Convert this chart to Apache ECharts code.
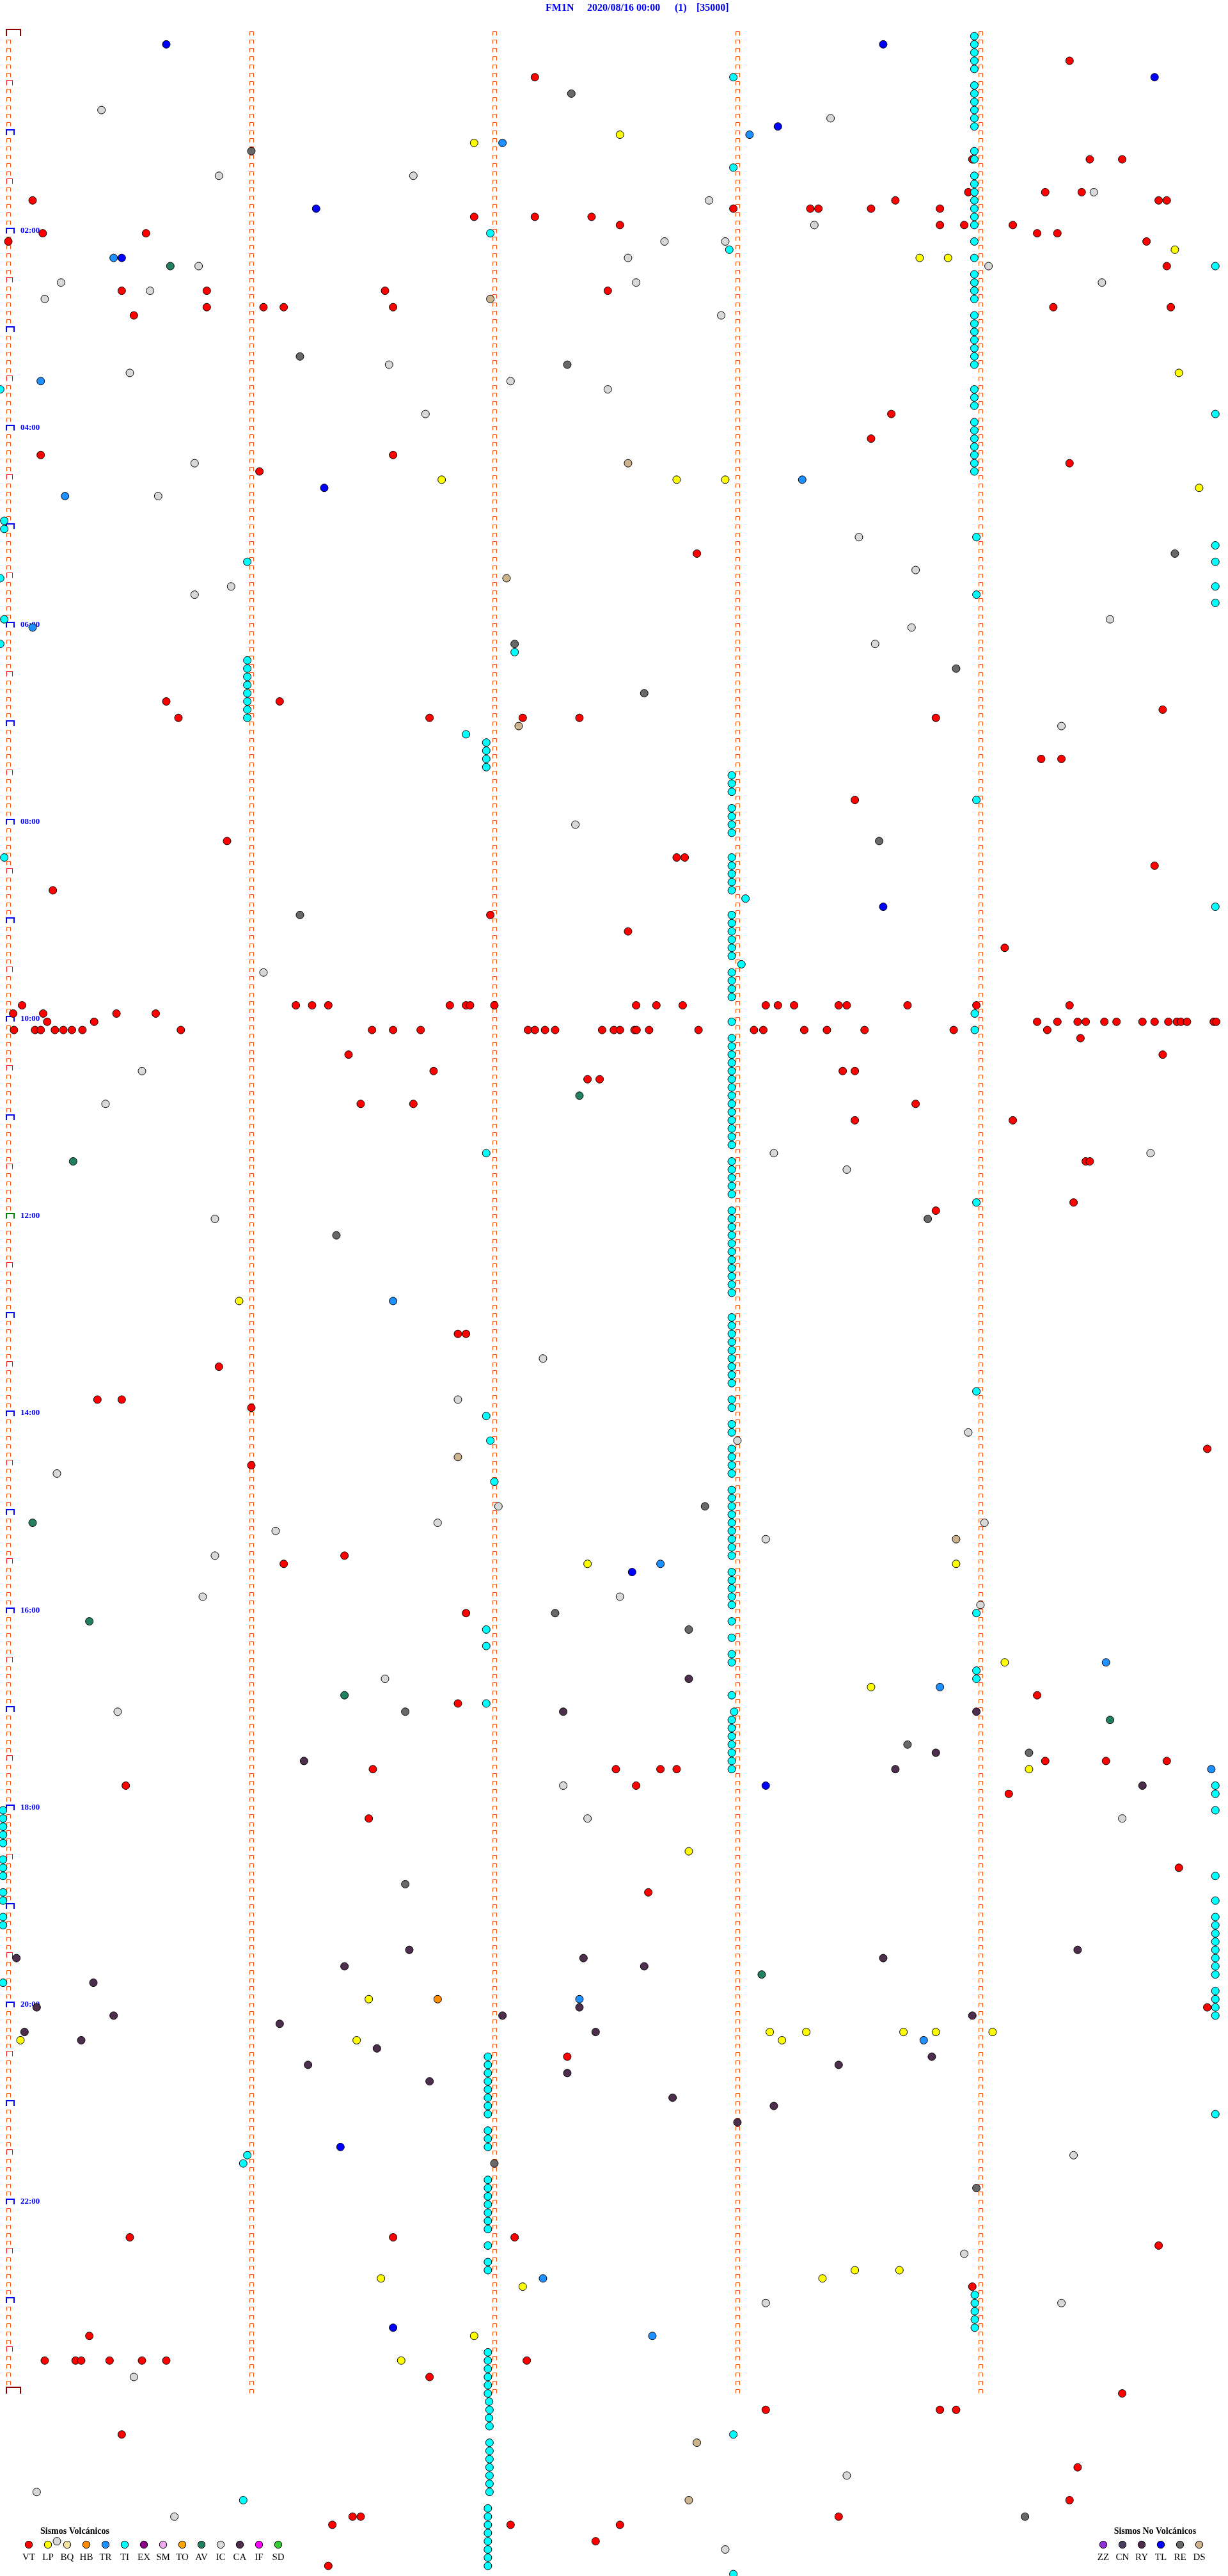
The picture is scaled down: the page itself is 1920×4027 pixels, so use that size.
<!DOCTYPE html>
<html><head><meta charset="utf-8">
<script src="https://cdn.jsdelivr.net/npm/echarts@6/dist/echarts.min.js"></script>
<style>html,body{margin:0;padding:0;background:#fff}#c{width:1920px;height:4027px}</style>
</head><body><div id="c"></div>
<script>
// Each event: [seconds within the 5-minute row, row index (5-minute rows from 00:00)]
const VT = [[262,3],[130,5],[267,15],[275,15],[238,15],[256,19],[265,19],[237,19],[6,20],[179,21],[198,21],[200,21],[213,21],[219,20],[230,21],[284,20],[286,20],[115,22],[130,22],[144,22],[151,23],[230,23],[236,23],[248,23],[254,24],[259,24],[0,25],[8.5,24],[34,24],[281,25],[286,28],
[28,31],[49,31],[93,31],[148,31],[49,33],[63,33],[68,33],[95,33],[31,34],[258,33],[287,33],
[218,46],[213,49],[8,51],[95,51],[262,52],[62,53],[170,63],
[39,81],[67,81],[285,82],[42,83],[104,83],[127,83],[141,83],[229,83],[255,88],[260,88],[209,93],[54,98],[165,100],[167,100],[283,101],[11,104],[119,107],[153,109],[246,111],
[3.4,118],[71,118],[75,118],[79,118],[109,118],[113,118],[114,118],[120,118],[155,118],[160,118],[166.5,118],[187,118],[190,118],[194,118],[205,118],[207,118],[222,118],[239,118],[262,118],
[1.2,119],[8.6,119],[26.7,119],[36.4,119],
[9.6,120],[21.2,120],[254,120],[259,120],[264,120],[266,120],[270.6,120],[273.6,120],[280,120],[283,120],[286.4,120],[288.5,120],[289.5,120],[291,120],[297.6,120],[298.2,120],
[1.4,121],[6.6,121],[8,121],[11.5,121],[13.6,121],[15.7,121],[18.3,121],[42.6,121],[89.8,121],[95,121],[101.8,121],[128.3,121],[130,121],[132.5,121],[135,121],[146.6,121],[149.5,121],[151,121],[154.6,121],[155.1,121],[158.2,121],[170.4,121],[184.1,121],[186.4,121],[196.5,121],[202.1,121],[211.4,121],[233.4,121],[256.5,121],
[264.7,122],
[285,124],[84,124],[105,126],[206,126],[209,126],[143,127],[146,127],[87,130],[100,130],[224,130],[209,132],[248,132],[266,137],[267,137],[263,142],[229,143],[111,158],[113,158],[52,162],[22,166],[28,166],[60,167],[296,172],[60,174],[83,185],[68,186],[113,192],[254,202],[111,203],[90,211],[150,211],[161,211],[165,211],[256,210],[271,210],[286,210],[155,213],[29,213],[247,214],[89,217],[289,223],[158,226],[296,240],[138,246],[30,268],[95,268],[125,268],[284,269],[20,280],[9,283],[16.6,283],[18,283],[25,283],[33,283],[39,283],[104,285],[128,283],[275,287],[187,289],[230,289],[234,289],[28,292],[264,296],[262,300],[85,302],[87,302],[205,302],[151,303],[124,303],[80,303],[145,305],[79,308]];
const LP = [[151,12],[115,13],[225,27],[232,27],[288,26],[289,41],[107,54],[165,54],[177,54],[294,55],[57,154],[143,186],[234,186],[246,198],[213,201],[252,211],[168,221],[89,239],[3,244],[86,244],[188,243],[191,244],[197,243],[221,243],[229,243],[243,243],[115,280],[92,273],[127,274],[201,273],[209,272],[220,272],[97,283]];
const HB = [[106,239]];
const TR = [[183,12],[122,13],[26,27],[8,42],[196,54],[14,56],[6,72],[95,154],[161,186],[271,198],[230,201],[297,211],[141,239],[226,244],[132,273],[159,280]];
const TI = [
[238.5,0],[238.5,1],[238.5,2],[238.5,3],[238.5,4],[238.5,6],[238.5,7],[238.5,8],[238.5,9],[238.5,10],[238.5,11],[238.5,14],[238.5,15],[238.5,17],[238.5,18],[238.5,19],[238.5,20],[238.5,21],[238.5,22],[238.5,23],[238.5,25],[238.5,27],[238.5,29],[238.5,30],[238.5,31],[238.5,32],[238.5,34],[238.5,35],[238.5,36],[238.5,37],[238.5,38],[238.5,39],[238.5,40],[238.5,43],[238.5,44],[238.5,45],[238.5,47],[238.5,48],[238.5,49],[238.5,50],[238.5,51],[238.5,52],[238.5,53],
[178.6,90],[178.6,91],[178.6,92],[178.6,94],[178.6,95],[178.6,96],[178.6,97],[178.6,100],[178.6,101],[178.6,102],[178.6,103],[178.6,104],[178.6,107],[178.6,108],[178.6,109],[178.6,110],[178.6,111],[178.6,112],[178.6,114],[178.6,115],[178.6,116],[178.6,117],[178.6,120],
[178.6,122],[178.6,123],[178.6,124],[178.6,125],[178.6,126],[178.6,127],[178.6,128],[178.6,129],[178.6,130],[178.6,131],[178.6,132],[178.6,133],[178.6,134],[178.6,135],
[178.6,137],[178.6,138],[178.6,139],[178.6,140],[178.6,141],
[178.6,143],[178.6,144],[178.6,145],[178.6,146],[178.6,147],[178.6,148],[178.6,149],[178.6,150],[178.6,151],[178.6,152],[178.6,153],
[178.6,156],[178.6,157],[178.6,158],[178.6,159],[178.6,160],[178.6,161],[178.6,162],[178.6,163],[178.6,164],
[178.6,166],[178.6,167],[178.6,169],[178.6,170],[178.6,172],[178.6,173],[178.6,174],[178.6,175],
[178.6,177],[178.6,178],[178.6,179],[178.6,180],[178.6,181],[178.6,182],[178.6,183],[178.6,184],[178.6,185],
[178.6,187],[178.6,188],[178.6,189],[178.6,190],[178.6,191],[178.6,193],[178.6,195],[178.6,197],[178.6,198],[178.6,202],[179.2,204],
[178.6,205],[178.6,206],[178.6,207],[178.6,208],[178.6,209],[178.6,210],[178.6,211],
[118.4,246],[118.4,247],[118.4,248],[118.4,249],[118.4,250],[118.4,251],[118.4,252],[118.4,253],[118.4,255],[118.4,256],[118.4,257],
[118.4,261],[118.4,262],[118.4,263],[118.4,264],[118.4,265],[118.4,266],[118.4,267],[118.4,269],[118.4,271],[118.4,272],
[118.4,282],[118.4,283],[118.4,284],[118.4,285],[118.4,286],[118.4,287],[118.7,288],[118.8,289],[118.7,290],[118.8,291],
[118.8,293],[118.8,294],[118.8,295],[118.8,296],[118.8,297],[118.8,298],[118.8,299],
[118.4,301],[118.4,302],[118.4,303],[118.4,304],[118.4,305],[118.4,306],[118.4,307],[118.4,308],
[179,5],[179,16],[119,24],[178,26],[298,28],[-2,43],[298,46],[-1,59],[-1,60],[239,61],[298,62],[59,64],[298,64],[-2,66],[239,68],[298,67],[298,69],[-1,71],[-2,74],[125,75],
[59,76],[59,77],[59,78],[59,79],[59,80],[59,81],[59,82],[59,83],[113,85],[118,86],[118,87],[118,88],[118,89],[239,93],[-1,100],[182,105],[298,106],[181,113],
[238.6,119],[238.6,121],[118,136],[239,142],[239,165],[118,168],[119,171],[120,176],[239,192],[118,194],[118,196],[239,199],[239,200],[118,203],[298,213],[298,214],[298,216],
[-1.3,216],[-1.3,217],[-1.3,218],[-1.3,219],[-1.3,220],[-1.3,222],[-1.3,223],[-1.3,224],[-1.3,226],[-1.3,227],[-1.3,229],[-1.3,230],[-1.3,237],
[298,224],[298,227],[298,229],[298,230],[298,231],[298,232],[298,233],[298,234],[298,235],[298,236],[298,238],[298,239],[298,240],[298,241],[298,253],
[59,258],[58,259],[238.6,275],[238.6,276],[238.6,277],[238.6,278],[238.6,279],[179,292],[58,300],[179,309]];
const VT_TOP = [[238,274]];
const IC = [[23,9],[203,10],[52,17],[100,17],[173,20],[268,19],[199,23],[162,25],[177,25],[47,28],[153,27],[242,28],[13,30],[155,30],[270,30],[9,32],[35,31],[176,34],[94,40],[30,41],[124,42],[148,43],[103,46],[46,52],[37,56],[210,61],[224,65],[55,67],[46,68],[272,71],[223,72],[214,74],[260,84],[140,96],[63,114],[33,126],[24,130],[282,136],[189,136],[207,138],[51,144],[132,161],[111,166],[237,170],[180,171],[12,175],[121,179],[187,183],[106,181],[241,181],[66,182],[51,185],[151,190],[48,190],[240,191],[93,200],[27,204],[137,213],[143,217],[275,217],[263,258],[236,270],[187,276],[260,276],[31,285],[207,297],[7,299],[41,302],[177,306],[12,305]];
const RE = [[139,7],[60,14],[72,39],[138,40],[288,63],[125,74],[234,77],[157,80],[215,98],[72,107],[227,144],[81,146],[172,179],[135,192],[168,194],[98,204],[222,208],[252,209],[98,225],[239,262],[251,302],[120,259]];
const DS = [[119,32],[153,52],[123,66],[126,84],[111,173],[234,183],[170,293],[168,300]];
const AV = [[40,28],[141,129],[16,137],[6,181],[20,193],[83,202],[272,205],[186,236]];
const CA = [[168,200],[137,204],[239,204],[229,209],[73,210],[219,211],[280,213],[2,234],[21,237],[99,233],[142,234],[83,235],[157,235],[216,234],[264,233],[7,240],[26,241],[4,243],[18,244],[141,240],[122,241],[145,243],[91,245],[67,242],[74,247],[238,241],[228,246],[205,247],[138,248],[104,249],[164,251],[189,252],[180,254]];
const TL = [[39,1],[216,1],[283,5],[190,11],[28,27],[76,21],[78,55],[216,106],[154,187],[187,213],[82,257],[95,279]];

const hourLabels = ['02:00','04:00','06:00','08:00','10:00','12:00','14:00','16:00','18:00','20:00','22:00'];
const hourLabelRows = [24,48,72,96,120,144,168,192,216,240,264];

const volcanicTypes = ['VT','LP','BQ','HB','TR','TI','EX','SM','TO','AV','IC','CA','IF','SD'];
const volcanicColors = ['#ff0000','#ffff00','#f3e3a3','#ff8c00','#1e90ff','#00ffff','#8b008b','#eeaaee','#ffa500','#22805f','#d8d8d8','#4d2e4d','#ff00ff','#33cc33'];
const nonVolcanicTypes = ['ZZ','CN','RY','TL','RE','DS'];
const nonVolcanicColors = ['#9030d8','#4a3d5e','#4d2d4d','#0000ff','#686868','#cdb48e'];

const titleParts = ['FM1N','2020/08/16 00:00','(1)','[35000]'];

// ---------- build ----------
const colorOf = t => { let i = volcanicTypes.indexOf(t); if (i>=0) return volcanicColors[i]; return nonVolcanicColors[nonVolcanicTypes.indexOf(t)]; };

const NROWS = 288, NCOLS = 5;
const markerData = [];
for (let r = 0; r < NROWS; r++) {
  for (let c = 0; c < NCOLS; c++) {
    let k = 0;
    if (c === 0) {
      if (r === 0 || r === NROWS-1) k = 4;
      else if (r % 12 === 0) k = (r === 144 ? 3 : 2);
      else if (r % 6 === 0) k = 1;
    }
    markerData.push([c*60, r, k]);
  }
}
const MK = [
  {w:6,h:6,lw:1,c:'#ff4a00'},
  {w:9,h:8,lw:1,c:'#ff0000'},
  {w:12,h:8,lw:2,c:'#0000ff'},
  {w:12,h:8,lw:2,c:'#008000'},
  {w:22,h:10,lw:2,c:'#8b0000'}
];

function dotSeries(name, data, z){
  return {type:'scatter', name, data, symbol:'circle', symbolSize:12, silent:true, z: z||3,
    itemStyle:{color:colorOf(name), borderColor:'#000', borderWidth:1, opacity:1}, emphasis:{disabled:true}};
}

const font = '"Liberation Serif","Times New Roman",serif';
const graphics = [];
const titleX = [853, 918, 1055, 1089];
titleParts.forEach((t,i)=>graphics.push({type:'text', left:titleX[i], top:5, style:{text:t, font:'bold 16px '+font, fill:'#0000ff'}, silent:true}));

graphics.push({type:'text', x:63, y:3957, style:{text:'Sismos Volcánicos', font:'bold 14px '+font, fill:'#000', textAlign:'left', textVerticalAlign:'middle', align:'left', verticalAlign:'middle'}, silent:true});
volcanicTypes.forEach((t,i)=>{
  const cx = 45 + 30*i;
  graphics.push({type:'circle', shape:{cx, cy:3978, r:5.7}, style:{fill:volcanicColors[i], stroke:'#000', lineWidth:1}, silent:true});
  graphics.push({type:'text', x:cx, y:3998, style:{text:t, font:'15px '+font, fill:'#000', textAlign:'center', textVerticalAlign:'middle', align:'center', verticalAlign:'middle'}, silent:true});
});
graphics.push({type:'text', x:1806, y:3957, style:{text:'Sismos No Volcánicos', font:'bold 14px '+font, fill:'#000', textAlign:'center', textVerticalAlign:'middle', align:'center', verticalAlign:'middle'}, silent:true});
nonVolcanicTypes.forEach((t,i)=>{
  const cx = 1725 + 30*i;
  graphics.push({type:'circle', shape:{cx, cy:3978, r:5.7}, style:{fill:nonVolcanicColors[i], stroke:'#000', lineWidth:1}, silent:true});
  graphics.push({type:'text', x:cx, y:3998, style:{text:t, font:'15px '+font, fill:'#000', textAlign:'center', textVerticalAlign:'middle', align:'center', verticalAlign:'middle'}, silent:true});
});

const chart = echarts.init(document.getElementById('c'), null, {renderer:'canvas', width:1920, height:4027});
chart.setOption({
  animation:false,
  backgroundColor:'#ffffff',
  grid:{left:0, top:0, width:1920, height:4027, containLabel:false},
  xAxis:{type:'value', min:-2.053, max:301.12, show:false, splitLine:{show:false}},
  yAxis:{type:'value', inverse:true, min:-4.400, max:309.23, show:false, splitLine:{show:false}},
  graphic:graphics,
  series:[
    {type:'custom', name:'marks', data:markerData, silent:true, z:1,
      renderItem:(params, api)=>{
        const p = api.coord([api.value(0), api.value(1)]);
        const s = MK[api.value(2)];
        const off = s.lw % 2 ? 0.5 : 0;
        const x0 = Math.round(p[0]) - 3 + off, yb = Math.round(p[1]) + off - (s.lw%2?1:0);
        return {type:'polyline', shape:{points:[[x0,yb],[x0,yb-s.h],[x0+s.w,yb-s.h],[x0+s.w,yb]]}, style:{stroke:s.c, lineWidth:s.lw, fill:null}};
      }},
    {type:'custom', name:'hours', data:hourLabelRows.map((r,i)=>[0,r,i]), silent:true, z:2,
      renderItem:(params, api)=>{
        const p = api.coord([api.value(0), api.value(1)]);
        return {type:'text', style:{text:hourLabels[api.value(2)], x:p[0]+19, y:p[1]-4.5, font:'bold 13px '+font, fill:'#0000ff', align:'left', verticalAlign:'middle', textAlign:'left', textVerticalAlign:'middle'}};
      }},
    dotSeries('CA', CA), dotSeries('AV', AV), dotSeries('DS', DS), dotSeries('RE', RE), dotSeries('IC', IC),
    dotSeries('TL', TL), dotSeries('TR', TR), dotSeries('HB', HB), dotSeries('LP', LP), dotSeries('VT', VT),
    dotSeries('TI', TI), Object.assign(dotSeries('VT', VT_TOP), {z:4})
  ]
});
</script></body></html>
